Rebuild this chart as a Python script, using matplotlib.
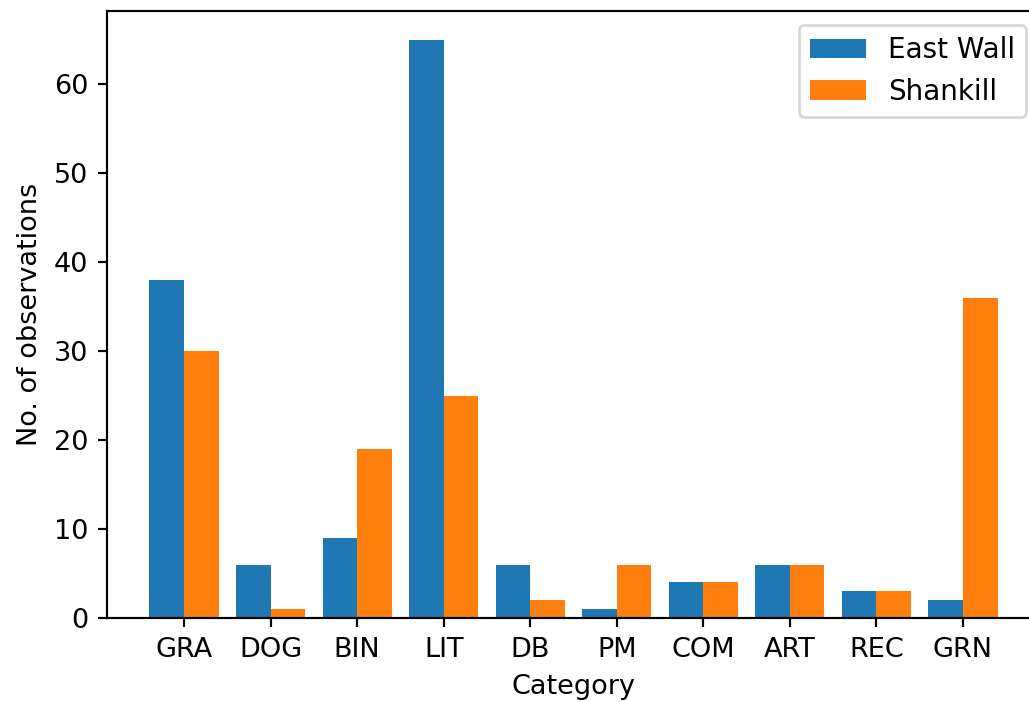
import numpy as np
import matplotlib
matplotlib.use("Agg")
import matplotlib.pyplot as plt

categories = ['GRA', 'DOG', 'BIN', 'LIT', 'DB', 'PM', 'COM', 'ART', 'REC', 'GRN']
east_wall = [38, 6, 9, 65, 6, 1, 4, 6, 3, 2]
shankill = [30, 1, 19, 25, 2, 6, 4, 6, 3, 36]

# bars side by side, width 0.4 each
x = np.arange(len(categories))
width = 0.4

fig = plt.figure(figsize=(1029 / 195, 702 / 195), dpi=195)
# right edge of the axes is cut off in the original picture
ax = fig.add_axes([107 / 1029, 84 / 702, 933 / 1029, 607 / 702])

ax.bar(x - width / 2, east_wall, width, label='East Wall')
ax.bar(x + width / 2, shankill, width, label='Shankill')

ax.set_xticks(x)
ax.set_xticklabels(categories)
ax.set_xlabel('Category')
ax.set_ylabel('No. of observations')
ax.legend(loc='upper right', fontsize=10.25)

fig.savefig('out.png', dpi=195)
